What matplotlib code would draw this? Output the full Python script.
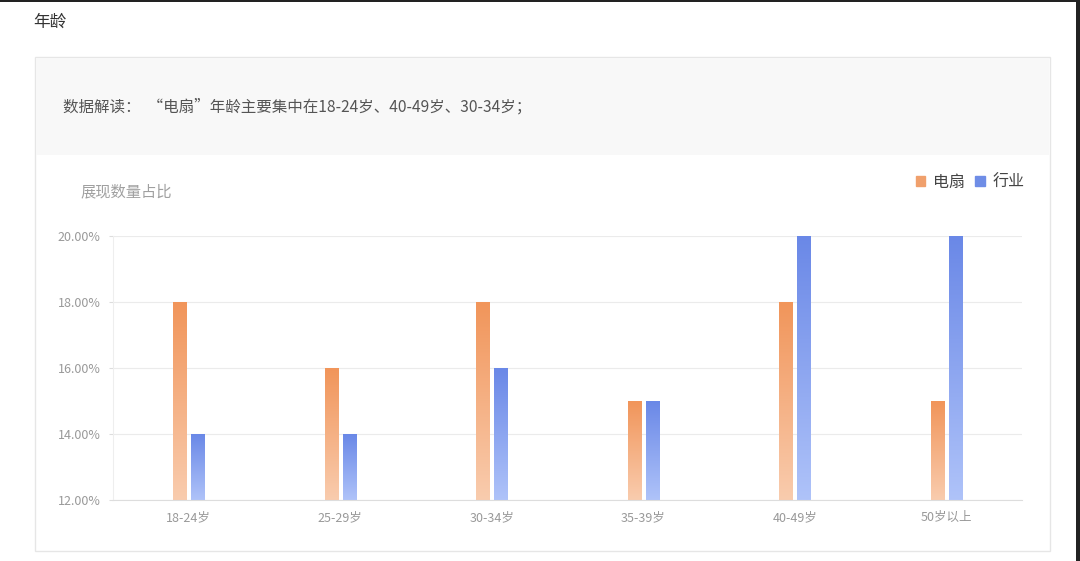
import matplotlib.pyplot as plt
import numpy as np
from matplotlib.colors import LinearSegmentedColormap
from matplotlib.patches import Rectangle

plt.rcParams["font.family"] = ["Noto Sans CJK SC", "DejaVu Sans"]

categories = ["18-24岁", "25-29岁", "30-34岁", "35-39岁", "40-49岁", "50岁以上"]
fan_share = [18, 16, 18, 15, 18, 15]
industry_share = [14, 14, 16, 15, 20, 20]
series_names = ["电扇", "行业"]
y_ticks = [12, 14, 16, 18, 20]

W, H = 1080, 561


def fx(px):
    return px / W


def fy(py):
    return 1 - py / H


fig = plt.figure(figsize=(W / 100, H / 100), dpi=100)
fig.patch.set_facecolor("white")

# panel frame and the grey "数据解读" strip
fig.add_artist(Rectangle((fx(35), fy(551)), fx(1050) - fx(35), fy(57) - fy(551),
                         facecolor="white", edgecolor="#e6e6e6", lw=1, zorder=0))
fig.add_artist(Rectangle((fx(36), fy(155)), fx(1049) - fx(36), fy(58) - fy(155),
                         facecolor="#f8f8f8", edgecolor="none", zorder=0))
# screenshot dark edges
fig.add_artist(Rectangle((0, fy(2)), 1, fy(0) - fy(2), facecolor="#222222", edgecolor="none"))
fig.add_artist(Rectangle((fx(1076), 0), 1 - fx(1076), 1, facecolor="#222222", edgecolor="none"))

fig.text(fx(33), fy(22), "年龄", fontsize=12, color="#333333", va="center")
fig.text(fx(63), fy(107), "数据解读：  “电扇”年龄主要集中在18-24岁、40-49岁、30-34岁；",
         fontsize=11.2, color="#555555", va="center")
fig.text(fx(80), fy(192), "展现数量占比", fontsize=11, color="#a0a0a0", va="center")

ax = fig.add_axes([fx(113), fy(500), fx(1022) - fx(113), fy(236) - fy(500)])
ax.set_facecolor("none")

x = np.arange(len(categories))
width = 0.086
offset = 0.058
ymin, ymax = y_ticks[0], y_ticks[-1]

orange_cmap = LinearSegmentedColormap.from_list("o", ["#f9ccae", "#f1955a"])
blue_cmap = LinearSegmentedColormap.from_list("b", ["#afc3f9", "#6a88e7"])
grad = np.linspace(0, 1, 256).reshape(-1, 1)

for values, shift, cmap in [(fan_share, -offset, orange_cmap), (industry_share, offset, blue_cmap)]:
    bars = ax.bar(x + shift, values, width=width, bottom=0, color="none", edgecolor="none")
    for b, v in zip(bars, values):
        x0 = b.get_x()
        top = min(v, ymax)
        ax.imshow(grad, cmap=cmap, origin="lower", aspect="auto",
                  extent=[x0, x0 + width, ymin, top], zorder=2)

ax.set_xlim(-0.5, len(categories) - 0.5)
ax.set_ylim(ymin, ymax)
ax.set_yticks(y_ticks)
ax.set_yticklabels([f"{t:.2f}%" for t in y_ticks])
ax.set_xticks(x)
ax.set_xticklabels(categories)
ax.tick_params(axis="y", length=3, color="#dddddd", labelsize=9, labelcolor="#999999", pad=6)
ax.tick_params(axis="x", length=0, labelsize=9, labelcolor="#999999", pad=8)
ax.grid(axis="y", color="#ebebeb", lw=0.8, zorder=0)
ax.set_axisbelow(True)
for s in ["top", "right"]:
    ax.spines[s].set_visible(False)
ax.spines["left"].set_color("#eeeeee")
ax.spines["bottom"].set_color("#dddddd")

# legend
handles = [Rectangle((0, 0), 1, 1, color="#f0a06c"), Rectangle((0, 0), 1, 1, color="#6f8de6")]
fig.legend(handles, series_names, loc="center right", bbox_to_anchor=(fx(1039), fy(182)),
           ncol=2, frameon=False, fontsize=11.5, handlelength=0.6, handleheight=0.6,
           handletextpad=0.5, columnspacing=0.6, labelcolor="#444444")

fig.savefig("out.png", dpi=100)
